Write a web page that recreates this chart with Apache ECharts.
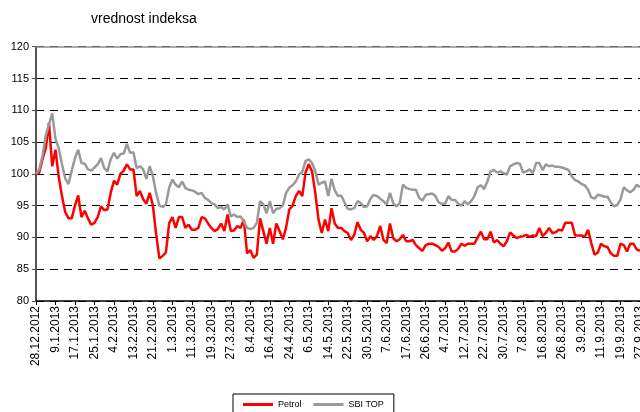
<!DOCTYPE html>
<html>
<head>
<meta charset="utf-8">
<script src="https://cdn.jsdelivr.net/npm/echarts@6/dist/echarts.min.js"></script>
<style>
  html, body { margin: 0; padding: 0; background: #fff; }
  #chart { width: 640px; height: 412px; }
</style>
</head>
<body>
<div id="chart"></div>
<script>
// labels shown every 6th trading day
const tickLabels = ['28.12.2012','9.1.2013','17.1.2013','25.1.2013','4.2.2013','13.2.2013','21.2.2013','1.3.2013','11.3.2013','19.3.2013','27.3.2013','8.4.2013','16.4.2013','24.4.2013','6.5.2013','14.5.2013','22.5.2013','30.5.2013','7.6.2013','17.6.2013','26.6.2013','4.7.2013','12.7.2013','22.7.2013','30.7.2013','7.8.2013','16.8.2013','26.8.2013','3.9.2013','11.9.2013','19.9.2013','27.9.2013'];

const petrol = [
  100, 100.2, 102.3, 104, 108, 101.2, 103.8, 99.5, 96.5, 94,
  93, 93, 95, 96.6, 93.2, 94.2, 93, 92, 92.3, 93.2,
  94.9, 94.3, 94.4, 97, 98.9, 98.3, 100, 100.5, 101.5, 100.7,
  100.7, 96.5, 97.3, 96, 95.3, 97, 95, 90.5, 86.7, 87.1,
  87.6, 92.2, 93.2, 91.5, 93.2, 93.2, 91.5, 92, 91.2, 91.2,
  91.5, 93.2, 93, 92.2, 91.5, 91, 91.3, 92.2, 91, 93.6,
  91, 91.1, 91.8, 91.5, 92.8, 87.5, 88, 86.8, 87.3, 93,
  91, 89, 91.5, 89, 92.2, 91, 89.7, 91.5, 94.4, 95,
  96.5, 97.3, 96.5, 100.2, 101.5, 100.4, 97, 92.8, 90.7, 92.8,
  91, 94.6, 92.2, 91.5, 91.5, 91, 90.7, 89.6, 90.4, 92.4,
  91.2, 90.7, 89.4, 90.2, 89.6, 90.2, 91.8, 89.6, 89.1, 92.2,
  89.9, 89.4, 89.7, 90.4, 89.4, 89.4, 89.6, 88.8, 88.3, 87.9,
  88.8, 89, 89, 88.8, 88.5, 87.9, 88.3, 89.2, 87.8, 87.8,
  88.2, 89, 88.7, 89, 89, 89, 90, 90.9, 89.7, 89.7,
  90.9, 89.2, 89.6, 89, 88.6, 89.4, 90.8, 90.3, 89.9, 90.1,
  90.2, 90.4, 90.1, 90.3, 90.2, 91.5, 90.2, 90.7, 91.5, 90.7,
  90.8, 91.2, 91.1, 92.3, 92.3, 92.3, 90.3, 90.3, 90.3, 90.1,
  91.2, 89.1, 87.3, 87.6, 89, 88.6, 88.5, 87.5, 87.1, 87.1,
  89, 88.8, 87.8, 89, 89, 88.1, 87.9
];

const sbiTop = [
  100, 100.7, 102.8, 106, 107.8, 109.5, 105.5, 104, 101.5, 99.3,
  98.4, 100.5, 102.5, 103.8, 101.7, 101.6, 100.7, 100.5, 101, 101.5,
  102.5, 100.9, 100.4, 102.3, 103.3, 102.4, 103.1, 103.2, 104.7, 103.3,
  103.4, 100.9, 101.2, 100.7, 99.2, 101.2, 99.6, 97, 95, 94.8,
  95.2, 97.8, 99.1, 98.3, 97.9, 98.8, 97.8, 97.5, 97.4, 97.2,
  96.8, 97, 96.2, 95.9, 95.4, 95.2, 94.6, 94.8, 94.4, 95.2,
  93.3, 93.6, 93.2, 93.3, 92.5, 91.5, 91.3, 91.5, 92.3, 95.7,
  95.2, 93.8, 95.7, 93.8, 94.5, 94.6, 95, 97, 97.8, 98.2,
  98.8, 99.9, 100.3, 102, 102.3, 101.7, 100.4, 98.3, 98.6, 98.8,
  96.5, 99.2, 97.4, 96.5, 96.6, 95.5, 94.5, 94.4, 94.6, 95.7,
  95.4, 94.8, 94.9, 96.1, 96.7, 96.5, 96.1, 95.7, 95.2, 97,
  95.4, 94.9, 95.4, 98.3, 97.8, 97.6, 97.5, 97.5, 96.2, 95.8,
  96.7, 96.8, 96.9, 96.5, 95.5, 95.3, 95.3, 96.5, 95.9, 95.9,
  95.3, 95, 95.7, 95.2, 95.7, 96.5, 97.9, 98.2, 97.6, 98.8,
  100.4, 100.6, 100.2, 100.4, 100.1, 99.9, 101.2, 101.5, 101.7, 101.6,
  100.2, 100.4, 100.7, 100.1, 101.7, 101.7, 100.6, 101.5, 101.2, 101.3,
  101.1, 101.1, 101, 100.8, 100.6, 99.6, 99, 98.8, 98.4, 98.2,
  97.5, 96.3, 96.1, 96.7, 96.6, 96.4, 96.4, 95.5, 94.9, 95.1,
  96, 97.9, 97.4, 97.1, 97.5, 98.3, 97.9
];

const step = 6;
const categories = petrol.map(function (v, i) {
  return i % step === 0 ? tickLabels[i / step] : '';
});

const font = 'Liberation Sans, Arial, sans-serif';
const chart = echarts.init(document.getElementById('chart'));
chart.setOption({
  animation: false,
  title: {
    text: 'vrednost indeksa',
    left: 86,
    top: 7,
    textStyle: { fontFamily: font, fontSize: 14, fontWeight: 'normal', color: '#000' }
  },
  legend: {
    left: 233,
    top: 394,
    padding: [6, 10, 8, 10],
    borderColor: '#000',
    borderWidth: 1,
    itemGap: 12,
    itemWidth: 30,
    itemHeight: 3,
    icon: 'rect',
    textStyle: { fontFamily: font, fontSize: 9, color: '#000' },
    data: ['Petrol', 'SBI TOP']
  },
  grid: { left: 36, right: 0, top: 46.7, bottom: 111, containLabel: false, outerBoundsMode: 'none' },
  xAxis: [{
    type: 'category',
    data: categories,
    boundaryGap: false,
    axisLine: { lineStyle: { color: '#000', width: 1.5 } },
    axisTick: { interval: step - 1, length: 4, lineStyle: { color: '#000' } },
    axisLabel: { interval: step - 1, rotate: 90, margin: 5, fontFamily: font, fontSize: 12, color: '#000' },
    splitLine: { show: false }
  }, {
    type: 'category',
    position: 'top',
    data: categories,
    boundaryGap: false,
    axisLine: { lineStyle: { color: '#8c8c8c', width: 1.5 } },
    axisTick: { show: false },
    axisLabel: { show: false }
  }],
  yAxis: {
    type: 'value',
    min: 80,
    max: 120,
    interval: 5,
    axisLine: { show: true, lineStyle: { color: '#555', width: 2 } },
    axisTick: { show: true, length: 4, lineStyle: { color: '#555' } },
    axisLabel: { margin: 7, fontFamily: font, fontSize: 11, color: '#000' },
    splitLine: { lineStyle: { color: '#000', type: [8, 6], width: 1 } }
  },
  series: [{
    name: 'Petrol',
    type: 'line',
    data: petrol,
    showSymbol: false,
    color: '#ff0000',
    lineStyle: { width: 2.5, color: '#ff0000' }
  }, {
    name: 'SBI TOP',
    type: 'line',
    data: sbiTop,
    showSymbol: false,
    color: '#999999',
    lineStyle: { width: 2.5, color: '#999999' }
  }]
});
</script>
</body>
</html>
